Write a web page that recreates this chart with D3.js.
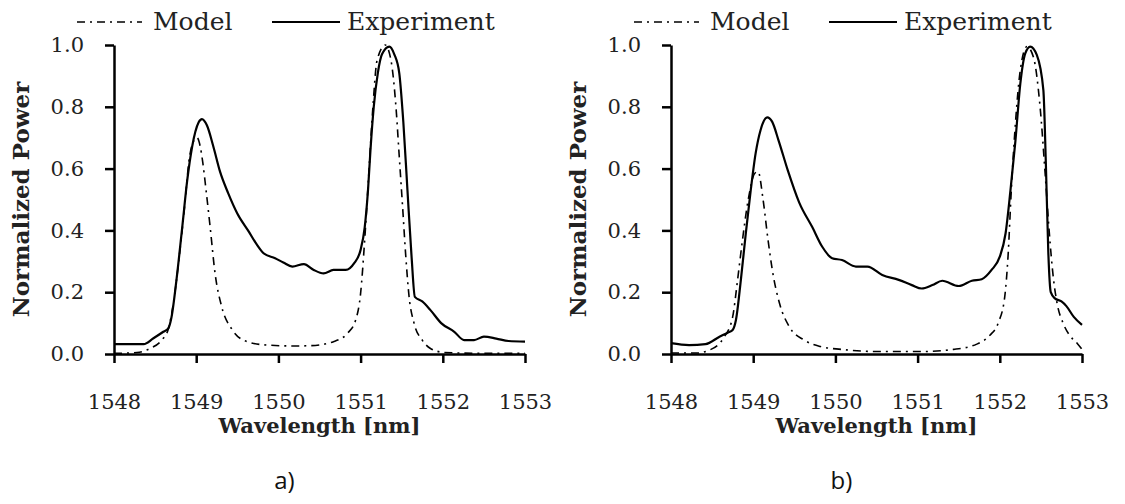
<!DOCTYPE html>
<html>
<head>
<meta charset="utf-8">
<script src="https://cdn.jsdelivr.net/npm/d3@7"></script>
<style>
  html, body { margin: 0; padding: 0; background: #fff; }
  svg { display: block; }
</style>
</head>
<body>
<script>
// spectra, wavelength in nm / normalized power

var xTicks = [1548, 1549, 1550, 1551, 1552, 1553],
    yTicks = [0, 0.2, 0.4, 0.6, 0.8, 1.0];

// panel a
var expA_x = [1548.0, 1548.36, 1548.48, 1548.60, 1548.66, 1548.70, 1548.76, 1548.83, 1548.89, 1548.95, 1549.03, 1549.07, 1549.13, 1549.21, 1549.29, 1549.39, 1549.50, 1549.64, 1549.74, 1549.82, 1549.96, 1550.06, 1550.17, 1550.31, 1550.43, 1550.55, 1550.67, 1550.82, 1550.92, 1551.00, 1551.05, 1551.09, 1551.12, 1551.16, 1551.21, 1551.26, 1551.35, 1551.41, 1551.47, 1551.52, 1551.57, 1551.62, 1551.66, 1551.75, 1551.85, 1551.98, 1552.14, 1552.26, 1552.38, 1552.50, 1552.65, 1552.80, 1553.0];
var expA_y = [0.032, 0.032, 0.051, 0.072, 0.083, 0.12, 0.24, 0.41, 0.56, 0.67, 0.75, 0.76, 0.74, 0.67, 0.59, 0.52, 0.455, 0.396, 0.353, 0.326, 0.31, 0.296, 0.283, 0.291, 0.272, 0.261, 0.272, 0.272, 0.293, 0.337, 0.41, 0.53, 0.66, 0.80, 0.91, 0.97, 0.995, 0.97, 0.91, 0.75, 0.53, 0.315, 0.185, 0.17, 0.142, 0.10, 0.072, 0.045, 0.045, 0.056, 0.05, 0.042, 0.04];
var modA_x = [1548.0, 1548.28, 1548.44, 1548.58, 1548.66, 1548.72, 1548.80, 1548.86, 1548.91, 1548.97, 1549.01, 1549.05, 1549.08, 1549.12, 1549.17, 1549.23, 1549.31, 1549.44, 1549.62, 1549.86, 1550.19, 1550.39, 1550.67, 1550.84, 1550.94, 1551.00, 1551.05, 1551.10, 1551.15, 1551.20, 1551.30, 1551.37, 1551.43, 1551.47, 1551.51, 1551.55, 1551.59, 1551.65, 1551.75, 1551.85, 1552.02, 1552.5, 1553.0];
var modA_y = [0.002, 0.005, 0.018, 0.045, 0.08, 0.16, 0.33, 0.48, 0.62, 0.69, 0.70, 0.67, 0.62, 0.53, 0.41, 0.26, 0.153, 0.078, 0.04, 0.029, 0.026, 0.027, 0.04, 0.067, 0.11, 0.196, 0.37, 0.585, 0.80, 0.95, 1.0, 0.95, 0.80, 0.64, 0.48, 0.315, 0.185, 0.10, 0.045, 0.018, 0.005, 0.002, 0.002];

// panel b
var expB_x = [1548.0, 1548.22, 1548.42, 1548.59, 1548.69, 1548.75, 1548.79, 1548.85, 1548.91, 1548.97, 1549.03, 1549.09, 1549.17, 1549.23, 1549.31, 1549.42, 1549.56, 1549.72, 1549.84, 1549.96, 1550.08, 1550.25, 1550.39, 1550.57, 1550.77, 1550.93, 1551.05, 1551.18, 1551.30, 1551.50, 1551.66, 1551.78, 1551.90, 1552.00, 1552.07, 1552.13, 1552.19, 1552.25, 1552.31, 1552.37, 1552.45, 1552.53, 1552.56, 1552.59, 1552.62, 1552.67, 1552.75, 1552.81, 1552.90, 1553.0];
var expB_y = [0.035, 0.029, 0.032, 0.056, 0.069, 0.078, 0.11, 0.24, 0.39, 0.53, 0.65, 0.725, 0.766, 0.752, 0.69, 0.595, 0.49, 0.41, 0.347, 0.31, 0.304, 0.283, 0.283, 0.256, 0.24, 0.223, 0.212, 0.223, 0.237, 0.22, 0.237, 0.242, 0.272, 0.315, 0.39, 0.53, 0.69, 0.876, 0.973, 0.995, 0.968, 0.854, 0.62, 0.33, 0.20, 0.18, 0.17, 0.155, 0.12, 0.094];
var modB_x = [1548.0, 1548.33, 1548.45, 1548.57, 1548.65, 1548.75, 1548.81, 1548.87, 1548.94, 1549.02, 1549.06, 1549.12, 1549.18, 1549.24, 1549.32, 1549.44, 1549.62, 1549.82, 1550.07, 1550.51, 1551.05, 1551.44, 1551.72, 1551.88, 1551.98, 1552.06, 1552.10, 1552.14, 1552.19, 1552.25, 1552.33, 1552.41, 1552.49, 1552.55, 1552.60, 1552.65, 1552.70, 1552.77, 1552.85, 1552.94, 1553.0];
var modB_y = [0.003, 0.003, 0.011, 0.029, 0.056, 0.12, 0.24, 0.37, 0.50, 0.585, 0.59, 0.50, 0.37, 0.26, 0.164, 0.088, 0.045, 0.024, 0.015, 0.008, 0.008, 0.015, 0.032, 0.061, 0.10, 0.185, 0.315, 0.53, 0.746, 0.92, 0.995, 0.96, 0.80, 0.59, 0.40, 0.25, 0.16, 0.10, 0.06, 0.035, 0.015];

var W = 1125, H = 504;
var serif = "'DejaVu Serif', 'Liberation Serif', serif";
var dashDot = "8,5,2,5";

var svg = d3.select("body").append("svg")
    .attr("width", W)
    .attr("height", H);

function drawPanel(left, expX, expY, modX, modY, label) {
  var plotW = 411, top = 45, plotH = 309;

  var x = d3.scaleLinear().domain([1548, 1553]).range([0, plotW]),
      y = d3.scaleLinear().domain([0, 1]).range([plotH, 0]);

  var g = svg.append("g").attr("transform", "translate(" + left + "," + top + ")");

  var xAxis = g.append("g")
      .attr("transform", "translate(0," + plotH + ")")
      .call(d3.axisBottom(x).tickValues(xTicks).tickFormat(d3.format("d")).tickSize(9).tickSizeOuter(0));
  xAxis.selectAll("text").attr("y", 55).attr("dy", null);

  var yAxis = g.append("g")
      .call(d3.axisLeft(y).tickValues(yTicks).tickFormat(d3.format(".1f")).tickSize(9).tickSizeOuter(0).tickPadding(21));

  g.selectAll(".domain, .tick line").attr("stroke", "#000").attr("stroke-width", 2.5);
  g.selectAll(".tick text")
      .attr("fill", "#222")
      .style("font-family", serif)
      .style("font-size", "21px");

  var line = d3.line()
      .x(function(d) { return x(d[0]); })
      .y(function(d) { return y(d[1]); })
      .curve(d3.curveMonotoneX);

  g.append("path")
      .datum(d3.zip(modX, modY))
      .attr("d", line)
      .attr("fill", "none")
      .attr("stroke", "#000")
      .attr("stroke-width", 1.6)
      .attr("stroke-dasharray", dashDot);

  g.append("path")
      .datum(d3.zip(expX, expY))
      .attr("d", line)
      .attr("fill", "none")
      .attr("stroke", "#000")
      .attr("stroke-width", 2.2);

  // axis titles
  g.append("text")
      .attr("x", plotW / 2)
      .attr("y", plotH + 79)
      .attr("text-anchor", "middle")
      .style("font-family", serif)
      .style("font-weight", "bold")
      .style("font-size", "21px")
      .attr("fill", "#222")
      .text("Wavelength [nm]");

  g.append("text")
      .attr("transform", "translate(-85," + (plotH / 2) + ") rotate(-90)")
      .attr("text-anchor", "middle")
      .style("font-family", serif)
      .style("font-weight", "bold")
      .style("font-size", "23px")
      .attr("fill", "#222")
      .text("Normalized Power");

  // legend above the plot
  var lg = g.append("g").attr("transform", "translate(0," + (-top) + ")");
  lg.append("line")
      .attr("x1", -37).attr("x2", 28).attr("y1", 22).attr("y2", 22)
      .attr("stroke", "#000").attr("stroke-width", 1.6)
      .attr("stroke-dasharray", dashDot);
  lg.append("text")
      .attr("x", 39).attr("y", 30)
      .style("font-family", serif).style("font-size", "25px")
      .attr("fill", "#222")
      .text("Model");
  lg.append("line")
      .attr("x1", 158).attr("x2", 226).attr("y1", 22).attr("y2", 22)
      .attr("stroke", "#000").attr("stroke-width", 2.2);
  lg.append("text")
      .attr("x", 233).attr("y", 30)
      .style("font-family", serif).style("font-size", "25px")
      .attr("fill", "#222")
      .text("Experiment");

  // sub-figure label
  g.append("text")
      .attr("x", plotW / 2 - 35)
      .attr("y", plotH + 135)
      .attr("text-anchor", "middle")
      .style("font-family", "'Open Sans', 'Noto Sans', sans-serif")
      .style("font-size", "24px")
      .attr("fill", "#111")
      .text(label);
}

drawPanel(114, expA_x, expA_y, modA_x, modA_y, "a)");
drawPanel(671, expB_x, expB_y, modB_x, modB_y, "b)");
</script>
</body>
</html>
